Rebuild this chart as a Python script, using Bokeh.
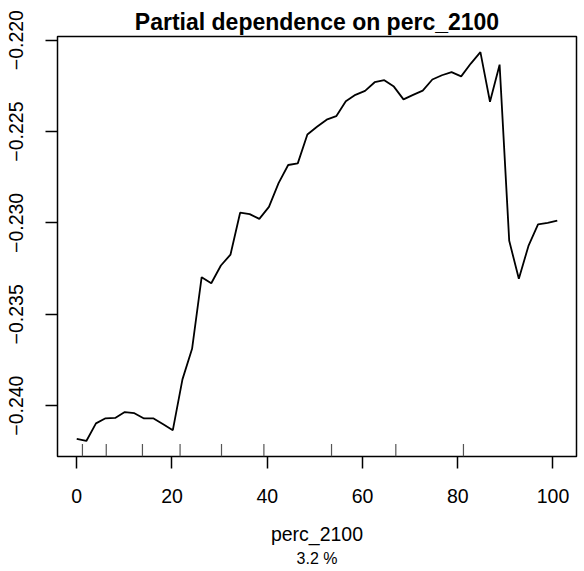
from bokeh.plotting import figure
from bokeh.models import Range1d, FixedTicker, CustomJSTickFormatter, Title
from bokeh.embed import file_html
from bokeh.resources import INLINE

title_text = "Partial dependence on perc_2100"
x_label = "perc_2100"
sub_label = "3.2 %"

x_vals = [0.00, 2.02, 4.04, 6.05, 8.07, 10.09, 12.11, 14.13, 16.14, 18.16,
          20.18, 22.20, 24.22, 26.23, 28.25, 30.27, 32.29, 34.31, 36.32, 38.34,
          40.36, 42.38, 44.40, 46.41, 48.43, 50.45, 52.47, 54.49, 56.50, 58.52,
          60.54, 62.56, 64.58, 66.59, 68.61, 70.63, 72.65, 74.67, 76.68, 78.70,
          80.72, 82.74, 84.76, 86.77, 88.79, 90.81, 92.83, 94.85, 96.86, 98.88,
          100.90]
pd_vals = [-0.24182, -0.24193, -0.24097, -0.24069, -0.24067, -0.24035, -0.24041, -0.24070, -0.24070, -0.24102,
           -0.24134, -0.23856, -0.23689, -0.23297, -0.23330, -0.23233, -0.23173, -0.22944, -0.22952, -0.22978,
           -0.22912, -0.22782, -0.22683, -0.22674, -0.22516, -0.22474, -0.22435, -0.22416, -0.22334, -0.22299,
           -0.22277, -0.22230, -0.22219, -0.22254, -0.22324, -0.22299, -0.22276, -0.22215, -0.22192, -0.22175,
           -0.22198, -0.22128, -0.22065, -0.22337, -0.22134, -0.23098, -0.23305, -0.23126, -0.23008, -0.23000,
           -0.22988]
rug_vals = [1.2, 6.2, 13.8, 21.7, 30.4, 39.3, 53.5, 67.0, 81.2]
x_ticks = [0, 20, 40, 60, 80, 100]
y_ticks = [-0.240, -0.235, -0.230, -0.225, -0.220]

FONT = "Liberation Sans"

xmin, xmax = min(x_vals), max(x_vals)
ymin, ymax = min(pd_vals), max(pd_vals)
xr = xmax - xmin
yr = ymax - ymin
x_range = Range1d(xmin - 0.04 * xr, xmax + 0.04 * xr)
y_range = Range1d(ymin - 0.04 * yr, ymax + 0.04 * yr)

p = figure(frame_width=519, frame_height=420,
           min_border_left=57, min_border_top=36, min_border_right=4, min_border_bottom=113,
           x_range=x_range, y_range=y_range,
           output_backend="svg", toolbar_location=None)

p.background_fill_color = "white"
p.border_fill_color = "white"
p.outline_line_color = "black"
p.outline_line_width = 1.5
p.xgrid.visible = False
p.ygrid.visible = False

p.title.text = title_text
p.title.align = "center"
p.title.text_font = FONT
p.title.text_font_size = "23px"
p.title.text_font_style = "bold"
p.title.text_color = "black"
p.title.standoff = 4

for ax in (p.xaxis[0], p.yaxis[0]):
    ax.axis_line_color = None
    ax.major_tick_line_color = "black"
    ax.major_tick_line_width = 1.5
    ax.major_tick_out = 12
    ax.major_tick_in = 0
    ax.minor_tick_line_color = None
    ax.major_label_text_font = FONT
    ax.major_label_text_font_size = "19.5px"
    ax.major_label_text_color = "black"
    ax.axis_label_text_font = FONT
    ax.axis_label_text_font_size = "19.5px"
    ax.axis_label_text_font_style = "normal"
    ax.axis_label_text_color = "black"

p.xaxis.ticker = FixedTicker(ticks=x_ticks)
p.xaxis.major_label_standoff = 20
p.xaxis.axis_label = x_label
p.xaxis.axis_label_standoff = 17

p.yaxis.ticker = FixedTicker(ticks=y_ticks)
p.yaxis.formatter = CustomJSTickFormatter(code="return (tick < 0 ? '\u2212' : '') + Math.abs(tick).toFixed(3);")
p.yaxis.major_label_orientation = "vertical"
p.yaxis.major_label_standoff = 22

p.add_layout(Title(text=sub_label, align="center", text_font=FONT, text_font_size="16px",
                   text_font_style="normal", text_color="black", standoff=1), "below")

p.line(x_vals, pd_vals, line_color="black", line_width=1.8)

rug_y0 = [y_range.start] * len(rug_vals)
rug_y1 = [y_range.start + 0.03 * (y_range.end - y_range.start)] * len(rug_vals)
p.segment(x0=rug_vals, y0=rug_y0, x1=rug_vals, y1=rug_y1, line_color="#555555", line_width=1.2)

open("out.html", "w").write(file_html(p, INLINE))
